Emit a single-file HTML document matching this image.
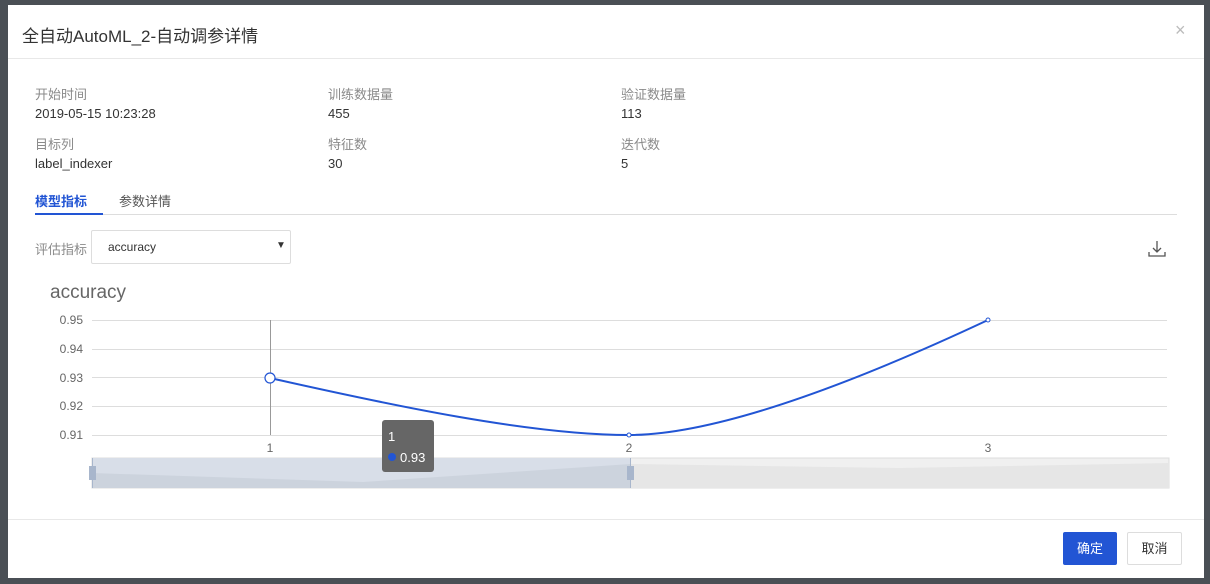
<!DOCTYPE html>
<html><head><meta charset="utf-8"><style>
body{margin:0;width:1210px;height:584px;background:#4a4f55;font-family:"Liberation Sans","Noto Sans CJK SC",sans-serif;position:relative;overflow:hidden}
.m{position:absolute;left:8px;top:5px;width:1196px;height:573px;background:#fff}
.a{position:absolute;white-space:nowrap}
.lb{font-size:13px;color:#8a8a8a}
.v{font-size:13px;color:#333}
</style></head><body>
<div class="m"></div>
<div class="a" style="left:22px;top:22px;font-size:17px;color:#333">全自动AutoML_2-自动调参详情</div>
<div class="a" style="left:1175px;top:20px;font-size:18px;color:#bbb">×</div>
<div class="a" style="left:8px;top:58px;width:1196px;height:1px;background:#e8e8e8"></div>
<div class="a lb" style="left:35px;top:84px">开始时间</div>
<div class="a v" style="left:35px;top:106px">2019-05-15 10:23:28</div>
<div class="a lb" style="left:328px;top:84px">训练数据量</div>
<div class="a v" style="left:328px;top:106px">455</div>
<div class="a lb" style="left:621px;top:84px">验证数据量</div>
<div class="a v" style="left:621px;top:106px">113</div>
<div class="a lb" style="left:35px;top:134px">目标列</div>
<div class="a v" style="left:35px;top:156px">label_indexer</div>
<div class="a lb" style="left:328px;top:134px">特征数</div>
<div class="a v" style="left:328px;top:156px">30</div>
<div class="a lb" style="left:621px;top:134px">迭代数</div>
<div class="a v" style="left:621px;top:156px">5</div>
<div class="a" style="left:35px;top:191px;font-size:13px;color:#2255d4;font-weight:bold">模型指标</div>
<div class="a" style="left:119px;top:191px;font-size:13px;color:#555">参数详情</div>
<div class="a" style="left:35px;top:214px;width:1142px;height:1px;background:#ddd"></div>
<div class="a" style="left:35px;top:213px;width:68px;height:2px;background:#2255d4"></div>
<div class="a lb" style="left:35px;top:239px">评估指标</div>
<div class="a" style="left:91px;top:230px;width:198px;height:32px;border:1px solid #ddd;border-radius:2px"></div>
<div class="a" style="left:108px;top:240px;font-size:12px;color:#333">accuracy</div>
<div class="a" style="left:276px;top:240px;font-size:10px;color:#333">▼</div>
<svg class="a" style="left:1148px;top:240px" width="18" height="18"><path d="M9 1v11M5 8l4 4 4-4M1 12v4h16v-4" stroke="#555" stroke-width="1.3" fill="none"/></svg>
<div class="a" style="left:50px;top:282px;font-size:19px;color:#666">accuracy</div>
<svg class="a" style="left:0;top:0" width="1210" height="584">
<g stroke="#ddd" stroke-width="1">
<line x1="92" x2="1167" y1="320.5" y2="320.5"/><line x1="92" x2="1167" y1="349.5" y2="349.5"/><line x1="92" x2="1167" y1="377.5" y2="377.5"/><line x1="92" x2="1167" y1="406.5" y2="406.5"/><line x1="92" x2="1167" y1="435.5" y2="435.5"/>
</g>
<line x1="270.5" x2="270.5" y1="320" y2="435" stroke="#999"/>
<g font-size="12" fill="#666" font-family="Liberation Sans,sans-serif" text-anchor="end">
<text x="83" y="324">0.95</text><text x="83" y="353">0.94</text><text x="83" y="382">0.93</text><text x="83" y="410">0.92</text><text x="83" y="439">0.91</text>
</g>
<g font-size="12" fill="#666" text-anchor="middle"><text x="270" y="452">1</text><text x="629" y="452">2</text><text x="988" y="452">3</text></g>
<path d="M270 378C390 405 530 435 629 435C720 435 860 380 988 320" stroke="#2255d4" stroke-width="2" fill="none"/>
<circle cx="270" cy="378" r="5" fill="#fff" stroke="#2255d4" stroke-width="1.2"/>
<circle cx="629" cy="435" r="2" fill="#fff" stroke="#2255d4"/>
<circle cx="988" cy="320" r="2" fill="#fff" stroke="#2255d4"/>
<rect x="92" y="458" width="1077" height="30" fill="#f0f0f0" stroke="#ddd"/>
<path d="M631 464L900 468L1169 463V488H631Z" fill="#e6e6e6"/>
<rect x="92" y="458" width="539" height="30" fill="#d8dee8"/>
<path d="M92 473L363 482L631 464V488H92Z" fill="#ccd3dd"/>
<line x1="92.5" x2="92.5" y1="458" y2="488" stroke="#a8b6cc"/><line x1="630.5" x2="630.5" y1="458" y2="488" stroke="#a8b6cc"/>
<rect x="89" y="466" width="7" height="14" fill="#a8b6cc"/><rect x="627" y="466" width="7" height="14" fill="#a8b6cc"/>
<rect x="382" y="420" width="52" height="52" rx="3" fill="#666"/>
<text x="388" y="441" font-size="13" fill="#fff">1</text>
<circle cx="392" cy="457" r="4" fill="#2255d4"/>
<text x="400" y="462" font-size="13" fill="#fff">0.93</text>
</svg>
<div class="a" style="left:8px;top:519px;width:1196px;height:1px;background:#e8e8e8"></div>
<div class="a" style="left:1063px;top:532px;width:54px;height:33px;background:#2255d4;border-radius:2px;color:#fff;font-size:13px;text-align:center;line-height:33px">确定</div>
<div class="a" style="left:1127px;top:532px;width:53px;height:31px;border:1px solid #ddd;border-radius:2px;color:#333;font-size:13px;text-align:center;line-height:31px">取消</div>
</body></html>
